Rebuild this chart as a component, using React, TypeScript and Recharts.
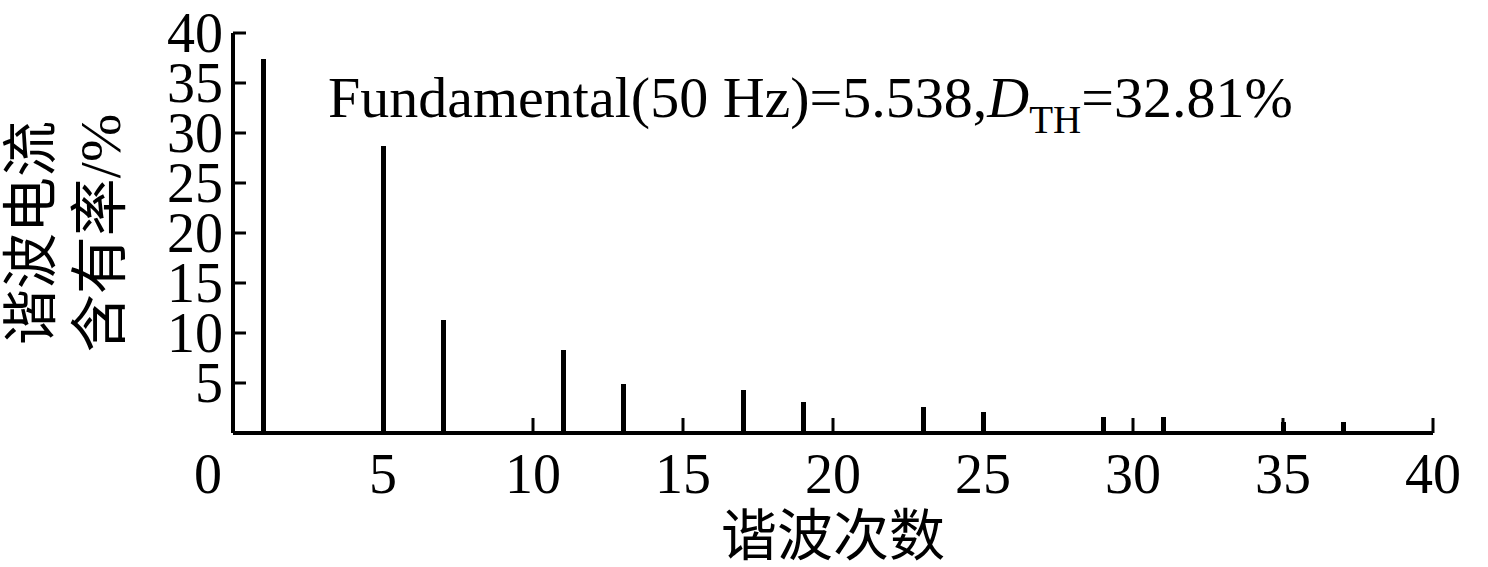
import React from 'react';
import { BarChart, Bar, XAxis, YAxis } from 'recharts';

// harmonic spectrum
const harmonicOrders = [1, 5, 7, 11, 13, 17, 19, 23, 25, 29, 31, 35, 37];
const contentRates = [37.4, 28.7, 11.3, 8.3, 4.9, 4.3, 3.1, 2.6, 2.1, 1.6, 1.6, 1.1, 1.1];

const xTicks = [0, 5, 10, 15, 20, 25, 30, 35, 40];
const yTicks = [5, 10, 15, 20, 25, 30, 35, 40];

const titleMain = 'Fundamental(50 Hz)=5.538,';
const titleSymbol = 'D';
const titleSub = 'TH';
const titleTail = '=32.81%';
const xLabel = '谐波次数';
const yLabelLines = ['谐波电流', '含有率/%'];

const FONT = "'Liberation Serif', 'Times New Roman', 'Noto Sans CJK SC', serif";
const W = 1488;
const H = 567;

const data = harmonicOrders.map((h, i) => ({ h, v: contentRates[i] }));

const XTick = (props: any) => {
  const { x, y, payload } = props;
  const shift = payload.value === 0 ? -25 : 0;
  return (
    <g>
      {payload.value !== 0 && (
        <line x1={x} y1={y} x2={x} y2={y - 15} stroke="#000" strokeWidth={3} />
      )}
      <text x={x + shift} y={y + 60} textAnchor="middle" fontFamily={FONT} fontSize={56} fill="#000">
        {payload.value}
      </text>
    </g>
  );
};

const YTick = (props: any) => {
  const { x, y, payload } = props;
  return (
    <g>
      <line x1={x} y1={y} x2={x + 13} y2={y} stroke="#000" strokeWidth={3} />
      <text x={x - 10} y={y + 19} textAnchor="end" fontFamily={FONT} fontSize={56} fill="#000">
        {payload.value}
      </text>
    </g>
  );
};

export default function App() {
  return (
    <div style={{ position: 'relative', width: W, height: H, background: '#fff' }}>
      <style>{'body{margin:0;background:#fff}'}</style>
      <BarChart
        width={W}
        height={H}
        data={data}
        margin={{ top: 33, right: 55, bottom: 0, left: 0 }}
      >
        <XAxis
          dataKey="h"
          type="number"
          domain={[0, 40]}
          ticks={xTicks}
          interval={0}
          height={134}
          tickSize={0}
          tickMargin={0}
          tickLine={false}
          axisLine={{ stroke: '#000', strokeWidth: 4 }}
          tick={<XTick />}
          allowDataOverflow
        />
        <YAxis
          type="number"
          domain={[0, 40]}
          ticks={yTicks}
          interval={0}
          width={233}
          tickSize={0}
          tickMargin={0}
          tickLine={false}
          axisLine={{ stroke: '#000', strokeWidth: 4 }}
          tick={<YTick />}
          allowDataOverflow
        />
        <Bar dataKey="v" fill="#000" barSize={5} isAnimationActive={false} />
      </BarChart>
      <svg
        width={W}
        height={H}
        style={{ position: 'absolute', left: 0, top: 0, pointerEvents: 'none' }}
      >
        <text x={328} y={117} fontFamily={FONT} fontSize={58} fill="#000">
          {titleMain}
          <tspan fontStyle="italic">{titleSymbol}</tspan>
          <tspan fontSize={39} dy={16}>{titleSub}</tspan>
          <tspan dy={-16}>{titleTail}</tspan>
        </text>
        <text x={833} y={555} textAnchor="middle" fontFamily={FONT} fontSize={56} fill="#000">
          {xLabel}
        </text>
        <text
          x={50}
          y={233}
          textAnchor="middle"
          transform="rotate(-90 50 233)"
          fontFamily={FONT}
          fontSize={56}
          fill="#000"
        >
          {yLabelLines[0]}
        </text>
        <text
          x={120}
          y={233}
          textAnchor="middle"
          transform="rotate(-90 120 233)"
          fontFamily={FONT}
          fontSize={58}
          fill="#000"
        >
          {yLabelLines[1]}
        </text>
      </svg>
    </div>
  );
}
